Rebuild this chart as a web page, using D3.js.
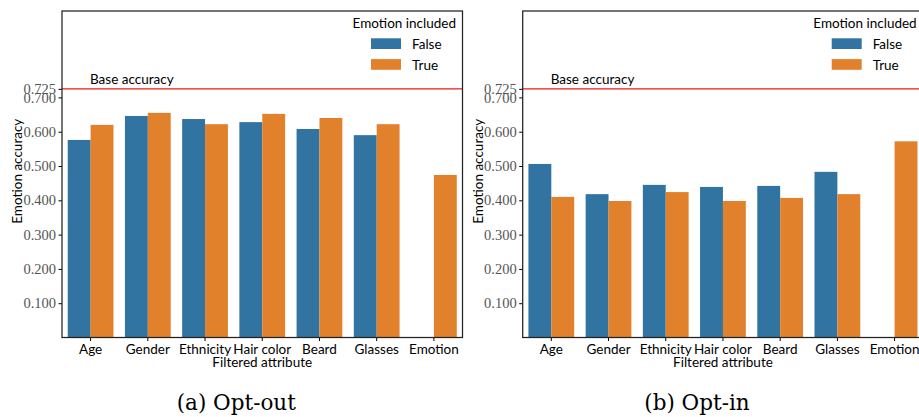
<!DOCTYPE html>
<html>
<head>
<meta charset="utf-8">
<script src="https://cdn.jsdelivr.net/npm/d3@7"></script>
<style>
  body { margin: 0; background: #fff; }
  svg { display: block; }
  .sans { font-family: "Lato", "DejaVu Sans", sans-serif; }
  .serif { font-family: "Liberation Serif", "DejaVu Serif", serif; }
  .caption { font-family: "DejaVu Serif", serif; }
</style>
</head>
<body>
<div id="screen"></div>
<script>
// categories on the x axis, shared by both panels
const categories = ["Age", "Gender", "Ethnicity", "Hair color", "Beard", "Glasses", "Emotion"];
const hues = ["False", "True"];

// (a) Opt-out
const optOutFalse = [0.576, 0.646, 0.637, 0.628, 0.608, 0.590, null];
const optOutTrue  = [0.620, 0.655, 0.622, 0.652, 0.640, 0.622, 0.474];

// (b) Opt-in
const optInFalse = [0.506, 0.418, 0.445, 0.439, 0.442, 0.483, null];
const optInTrue  = [0.410, 0.398, 0.424, 0.398, 0.407, 0.418, 0.572];

const baseAccuracy = 0.725;
const yTicks = [0.1, 0.2, 0.3, 0.4, 0.5, 0.6, 0.7, 0.725];
const yMax = 0.952;

const colors = {False: "#3274a1", True: "#e1812c"};

const W = 919, H = 417;
const plotTop = 11, plotBottom = 337.5;

var svg = d3.select("#screen").append("svg")
    .attr("width", W).attr("height", H)
    .style("background", "#fff");

const drawPanel = function(left, right, falseVals, trueVals, caption) {
    var g = svg.append("g");

    var x = d3.scaleBand().domain(categories).range([left, right])
        .paddingInner(0.2).paddingOuter(0.1);
    var xHue = d3.scaleBand().domain(hues).range([0, x.bandwidth()]);
    var y = d3.scaleLinear().domain([0, yMax]).range([plotBottom, plotTop]);

    var rows = [];
    categories.forEach((c, i) => {
        rows.push({cat: c, hue: "False", v: falseVals[i]});
        rows.push({cat: c, hue: "True", v: trueVals[i]});
    });

    g.selectAll("rect.bar")
        .data(rows.filter(d => d.v != null))
        .enter().append("rect")
        .attr("class", "bar")
        .attr("x", d => x(d.cat) + xHue(d.hue))
        .attr("width", xHue.bandwidth())
        .attr("y", d => y(d.v))
        .attr("height", d => y(0) - y(d.v))
        .attr("fill", d => colors[d.hue]);

    // base accuracy line
    g.append("line")
        .attr("x1", left).attr("x2", right)
        .attr("y1", y(baseAccuracy)).attr("y2", y(baseAccuracy))
        .attr("stroke", "#f01818").attr("stroke-width", 1.3);
    g.append("text").attr("class", "sans")
        .attr("x", left + 28).attr("y", y(baseAccuracy) - 5)
        .style("font-size", "13.5px")
        .text("Base accuracy");

    // axes
    var yAxis = g.append("g")
        .attr("transform", "translate(" + left + ",0)")
        .call(d3.axisLeft(y).tickValues(yTicks).tickFormat(d3.format(".3f")).tickSize(3.5).tickSizeOuter(0));
    yAxis.select(".domain").remove();
    yAxis.selectAll("text").attr("class", "serif")
        .style("font-size", "14.5px").attr("fill", "#555").attr("dx", "0.5");

    var xAxis = g.append("g")
        .attr("transform", "translate(0," + plotBottom + ")")
        .call(d3.axisBottom(x).tickSize(3.5).tickSizeOuter(0));
    xAxis.select(".domain").remove();
    xAxis.selectAll("text").attr("class", "sans")
        .style("font-size", "13.5px").attr("fill", "#000").attr("dy", "0.76em");

    // frame
    g.append("rect")
        .attr("x", left).attr("y", plotTop)
        .attr("width", right - left).attr("height", plotBottom - plotTop)
        .attr("fill", "none").attr("stroke", "#222").attr("stroke-width", 1.25);

    // axis titles
    g.append("text").attr("class", "sans")
        .attr("x", (left + right) / 2).attr("y", 367)
        .attr("text-anchor", "middle")
        .style("font-size", "13.5px")
        .text("Filtered attribute");
    g.append("text").attr("class", "sans")
        .attr("transform", "translate(" + (left - 40) + "," + ((plotTop + plotBottom) / 2 - 3) + ") rotate(-90)")
        .attr("text-anchor", "middle")
        .style("font-size", "13.5px")
        .text("Emotion accuracy");

    // legend
    var lg = g.append("g");
    lg.append("text").attr("class", "sans")
        .attr("x", right - 6.5).attr("y", 28)
        .attr("text-anchor", "end")
        .style("font-size", "13.5px")
        .text("Emotion included");
    hues.forEach((h, i) => {
        lg.append("rect")
            .attr("x", right - 91.5).attr("y", 38.3 + i * 20.8)
            .attr("width", 30).attr("height", 10.7)
            .attr("fill", colors[h]);
        lg.append("text").attr("class", "sans")
            .attr("x", right - 50.5).attr("y", 49 + i * 20.8)
            .style("font-size", "13.5px")
            .text(h);
    });

    // caption
    svg.append("text").attr("class", "caption")
        .attr("x", (left + right) / 2 - 26).attr("y", 410)
        .attr("text-anchor", "middle")
        .style("font-size", "21.5px")
        .text(caption);
};

drawPanel(62, 462.5, optOutFalse, optOutTrue, "(a) Opt-out");
drawPanel(522.7, 923.2, optInFalse, optInTrue, "(b) Opt-in");
</script>
</body>
</html>
